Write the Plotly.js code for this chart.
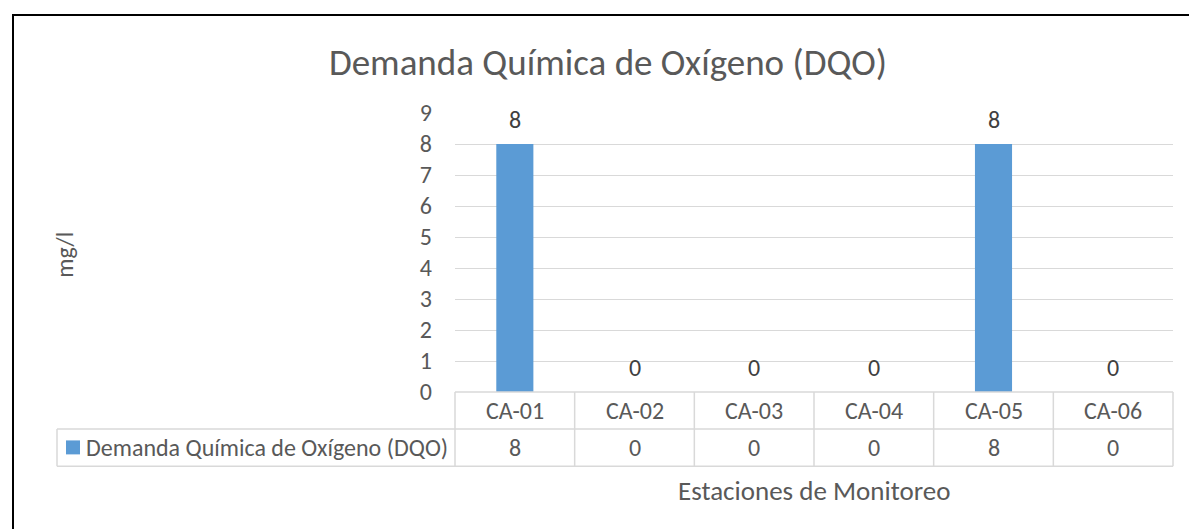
<!DOCTYPE html>
<html>
<head>
<meta charset="utf-8">
<script src="https://cdn.plot.ly/plotly-3.0.1.min.js"></script>
<style>
  html, body { margin: 0; padding: 0; background: #fff; }
  #wrap { position: relative; width: 1189px; height: 529px; overflow: hidden; }
  #chart { position: absolute; left: 0; top: 0; width: 1189px; height: 529px; }
  #frame { position: absolute; left: 12px; top: 14px; width: 1200px; height: 600px;
           border-left: 2px solid #000; border-top: 2px solid #000; pointer-events: none; }
</style>
</head>
<body>
<div id="wrap">
  <div id="chart"></div>
  <div id="frame"></div>
</div>
<script>
const chartTitle = "Demanda Química de Oxígeno (DQO)";
const seriesName = "Demanda Química de Oxígeno (DQO)";
const categories = ["CA-01", "CA-02", "CA-03", "CA-04", "CA-05", "CA-06"];
const values = [8, 0, 0, 0, 8, 0];
const yTickVals = [0, 1, 2, 3, 4, 5, 6, 7, 8, 9];
const yTitle = "mg/l";
const xTitle = "Estaciones de Monitoreo";

const FONT = "Carlito, Lato, 'Liberation Sans', sans-serif";
const TXT = "#595959";
const GRID = "#D9D9D9";
const BAR = "#5B9BD5";
const FS = 24;

const W = 1189, H = 529;
const mL = 455, mR = 16, mT = 113, mB = 136.5;
const plotW = W - mL - mR, plotH = H - mT - mB;
const px2x = p => (p - mL) / plotW;       // pixel -> paper x
const px2y = p => (H - mB - p) / plotH;   // pixel -> paper y

const n = categories.length;
const rowTop = px2y(392.5), rowMid = px2y(429.5), rowBot = px2y(467);
const legLeft = px2x(57);

const shapes = [];
const lineStyle = {color: GRID, width: 1.5};
shapes.push({type: 'line', xref: 'paper', yref: 'paper', x0: 0, x1: 1, y0: rowTop, y1: rowTop, line: lineStyle});
shapes.push({type: 'line', xref: 'paper', yref: 'paper', x0: legLeft, x1: 1, y0: rowMid, y1: rowMid, line: lineStyle});
shapes.push({type: 'line', xref: 'paper', yref: 'paper', x0: legLeft, x1: 1, y0: rowBot, y1: rowBot, line: lineStyle});
for (let k = 0; k <= n; k++) {
  shapes.push({type: 'line', xref: 'paper', yref: 'paper', x0: k / n, x1: k / n, y0: rowTop, y1: rowBot, line: lineStyle});
}
shapes.push({type: 'line', xref: 'paper', yref: 'paper', x0: legLeft, x1: legLeft, y0: rowMid, y1: rowBot, line: lineStyle});
shapes.push({type: 'rect', xref: 'paper', yref: 'paper', x0: px2x(66), x1: px2x(80), y0: px2y(455), y1: px2y(441),
             fillcolor: BAR, line: {width: 0}});

const annotations = [];
const fBody = {family: FONT, size: FS, color: TXT};
categories.forEach((c, i) => {
  annotations.push({x: c, y: values[i], xref: 'x', yref: 'y', text: String(values[i]), showarrow: false,
                    yanchor: 'middle', yshift: 25, font: {family: FONT, size: FS, color: '#404040'}});
  annotations.push({x: c, y: (rowTop + rowMid) / 2, xref: 'x', yref: 'paper', text: c, showarrow: false,
                    yanchor: 'middle', font: fBody});
  annotations.push({x: c, y: (rowMid + rowBot) / 2, xref: 'x', yref: 'paper', text: String(values[i]), showarrow: false,
                    yanchor: 'middle', font: fBody});
});
annotations.push({x: px2x(84), y: (rowMid + rowBot) / 2, xref: 'paper', yref: 'paper', text: seriesName,
                  showarrow: false, xanchor: 'left', yanchor: 'middle', font: fBody});
annotations.push({x: px2x(65), y: px2y(255), xref: 'paper', yref: 'paper', text: yTitle, textangle: -90,
                  showarrow: false, xanchor: 'center', yanchor: 'middle', font: fBody});
annotations.push({x: 0.5, y: px2y(491), xref: 'paper', yref: 'paper', text: xTitle,
                  showarrow: false, xanchor: 'center', yanchor: 'middle',
                  font: {family: FONT, size: 27, color: TXT}});

const data = [{
  type: 'bar',
  x: categories,
  y: values,
  name: seriesName,
  marker: {color: BAR},
  width: 0.31,
  hoverinfo: 'x+y'
}];

const layout = {
  width: W, height: H,
  margin: {l: mL, r: mR, t: mT, b: mB, pad: 0},
  paper_bgcolor: '#fff', plot_bgcolor: '#fff',
  showlegend: false,
  title: {text: chartTitle, x: 608 / W, xref: 'container', xanchor: 'center',
          y: 1 - 62 / H, yref: 'container', yanchor: 'middle',
          font: {family: FONT, size: 37, color: TXT}},
  xaxis: {type: 'category', range: [-0.5, n - 0.5], showticklabels: false, showgrid: false,
          zeroline: false, showline: false, ticks: '', fixedrange: true},
  yaxis: {range: [0, 9], tickvals: yTickVals, showgrid: true, gridcolor: GRID, gridwidth: 1,
          zeroline: false, showline: false, ticks: '', ticklabelstandoff: 22,
          tickfont: {family: FONT, size: FS, color: TXT}, fixedrange: true},
  shapes: shapes,
  annotations: annotations
};

Plotly.newPlot('chart', data, layout, {displayModeBar: false, staticPlot: true});
</script>
</body>
</html>
